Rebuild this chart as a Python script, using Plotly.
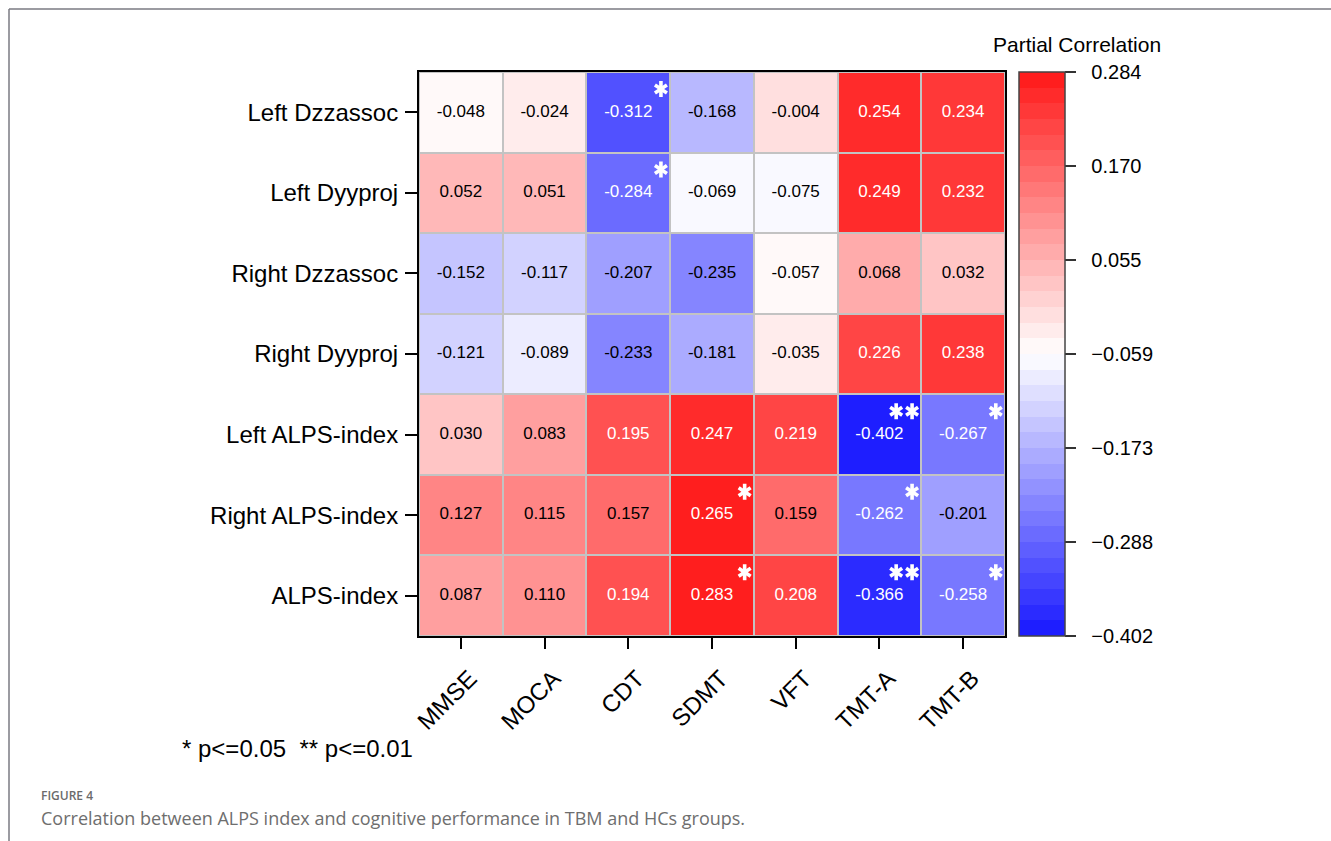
import plotly.graph_objects as go

# ---- data -------------------------------------------------------------
tests = ["MMSE", "MOCA", "CDT", "SDMT", "VFT", "TMT-A", "TMT-B"]
measures = ["Left Dzzassoc", "Left Dyyproj", "Right Dzzassoc", "Right Dyyproj",
            "Left ALPS-index", "Right ALPS-index", "ALPS-index"]

r_left_dzz = [-0.048, -0.024, -0.312, -0.168, -0.004, 0.254, 0.234]
r_left_dyy = [0.052, 0.051, -0.284, -0.069, -0.075, 0.249, 0.232]
r_right_dzz = [-0.152, -0.117, -0.207, -0.235, -0.057, 0.068, 0.032]
r_right_dyy = [-0.121, -0.089, -0.233, -0.181, -0.035, 0.226, 0.238]
r_left_alps = [0.030, 0.083, 0.195, 0.247, 0.219, -0.402, -0.267]
r_right_alps = [0.127, 0.115, 0.157, 0.265, 0.159, -0.262, -0.201]
r_alps = [0.087, 0.110, 0.194, 0.283, 0.208, -0.366, -0.258]

# number of significance stars per cell (1: p<=0.05, 2: p<=0.01)
sig_left_dzz = [0, 0, 1, 0, 0, 0, 0]
sig_left_dyy = [0, 0, 1, 0, 0, 0, 0]
sig_right_dzz = [0, 0, 0, 0, 0, 0, 0]
sig_right_dyy = [0, 0, 0, 0, 0, 0, 0]
sig_left_alps = [0, 0, 0, 0, 0, 2, 1]
sig_right_alps = [0, 0, 0, 1, 0, 1, 0]
sig_alps = [0, 0, 0, 1, 0, 2, 1]

cbar_ticks = [0.284, 0.170, 0.055, -0.059, -0.173, -0.288, -0.402]

values = [r_left_dzz, r_left_dyy, r_right_dzz, r_right_dyy,
          r_left_alps, r_right_alps, r_alps]
stars = [sig_left_dzz, sig_left_dyy, sig_right_dzz, sig_right_dyy,
         sig_left_alps, sig_right_alps, sig_alps]

ZMIN, ZMAX = min(cbar_ticks), max(cbar_ticks)

# ---- stepped blue-white-red colour scale (36 bins) ----------------------
RED = (255, 30, 30)
BLUE = (30, 30, 255)
NB = 36
HALF = NB // 2


def bin_rgb(b):
    if b >= HALF:
        k, end = b - HALF, RED
    else:
        k, end = HALF - 1 - b, BLUE
    t = (k + 0.5) / (HALF - 0.5)
    return tuple(round(255 + (c - 255) * t) for c in end)


colorscale = []
for b in range(NB):
    col = "rgb(%d,%d,%d)" % bin_rgb(b)
    colorscale.append([b / NB, col])
    colorscale.append([(b + 1) / NB, col])


def text_color(v):
    f = (v - ZMIN) / (ZMAX - ZMIN)
    b = min(NB - 1, max(0, int(f * NB)))
    r, g, bl = bin_rgb(b)
    lum = 0.299 * r + 0.587 * g + 0.114 * bl
    return "white" if lum < 146 else "black"


# ---- page geometry (pixels) --------------------------------------------
W, H = 1331, 841
PL, PR, PT, PB = 419, 1005, 72, 636


def px(x):
    return (x - PL) / (PR - PL)


def py(y):
    return (PB - y) / (PB - PT)


FONT = "Arial, Liberation Sans, sans-serif"
NBSP = "\u00a0"

nx, ny = len(tests), len(measures)
xs = list(range(nx))
ys = list(range(ny))

fig = go.Figure()

fig.add_trace(go.Heatmap(
    z=values, x=xs, y=ys,
    zmin=ZMIN, zmax=ZMAX,
    colorscale=colorscale,
    xgap=2, ygap=2,
    hoverinfo="skip",
    colorbar=dict(
        x=px(1019), xanchor="left", xpad=0,
        y=0.5, yanchor="middle", len=1, ypad=0,
        thickness=46,
        outlinewidth=1.5, outlinecolor="#444444",
        tickmode="array",
        tickvals=cbar_ticks,
        ticktext=[NBSP * 2 + ("%.3f" % v).replace("-", "\u2212") for v in cbar_ticks],
        ticks="outside", ticklen=11, tickwidth=1.5, tickcolor="#333333",
        tickfont=dict(family=FONT, size=20, color="black"),
    ),
))

# cell value labels
tx, ty, tt, tc = [], [], [], []
for i, row in enumerate(values):
    for j, v in enumerate(row):
        tx.append(j)
        ty.append(i)
        tt.append("%.3f" % v)
        tc.append(text_color(v))

fig.add_trace(go.Scatter(
    x=tx, y=ty, text=tt, mode="text",
    textfont=dict(family=FONT, size=17, color=tc),
    hoverinfo="skip", showlegend=False,
))

# significance stars: six-armed marks in the top-right corner of each cell
STAR_DX = 0.11    # star centre inset from the right cell edge (cell units)
STAR_STEP = 0.19  # spacing between two stars (cell units)
STAR_DY = 0.21    # star centre inset from the top cell edge (cell units)
sx, sy = [], []
for i, row in enumerate(stars):
    for j, n in enumerate(row):
        for k in range(n):
            sx.append(j + 0.5 - STAR_DX - k * STAR_STEP)
            sy.append(i - 0.5 + STAR_DY)

for sym in ("y-up-open", "y-down-open"):
    fig.add_trace(go.Scatter(
        x=sx, y=sy, mode="markers",
        marker=dict(symbol=sym, size=10, color="white",
                    line=dict(color="white", width=3.6)),
        hoverinfo="skip", showlegend=False,
    ))
fig.add_trace(go.Scatter(
    x=sx, y=sy, mode="markers",
    marker=dict(symbol="circle", size=6, color="white", line=dict(width=0)),
    hoverinfo="skip", showlegend=False,
))

annotations = [
    dict(x=px(1077), y=py(44), xref="paper", yref="paper",
         text="Partial Correlation", showarrow=False,
         xanchor="center", yanchor="middle",
         font=dict(family=FONT, size=21, color="black")),
    dict(x=px(180), y=py(748), xref="paper", yref="paper",
         text="* p<=0.05  ** p<=0.01", showarrow=False,
         xanchor="left", yanchor="middle",
         font=dict(family=FONT, size=24, color="black")),
    dict(x=px(39), y=py(795), xref="paper", yref="paper",
         text="FIGURE 4", showarrow=False,
         xanchor="left", yanchor="middle",
         font=dict(family="Open Sans, Noto Sans, sans-serif", size=12,
                   color="#6b6b6b", weight=600)),
    dict(x=px(39), y=py(818), xref="paper", yref="paper",
         text="Correlation between ALPS index and cognitive performance in TBM and HCs groups.",
         showarrow=False, xanchor="left", yanchor="middle",
         font=dict(family="Open Sans, Noto Sans, sans-serif", size=18,
                   color="#6e6e6e")),
]

shapes = [
    dict(type="line", xref="paper", yref="paper",
         x0=px(9), y0=py(9), x1=px(W + 5), y1=py(9),
         line=dict(color="#7a7a82", width=1.5)),
    dict(type="line", xref="paper", yref="paper",
         x0=px(9), y0=py(9), x1=px(9), y1=py(H + 5),
         line=dict(color="#7a7a82", width=1.5)),
]

fig.update_layout(
    width=W, height=H,
    margin=dict(l=PL, r=W - PR, t=PT, b=H - PB, pad=0),
    paper_bgcolor="white",
    plot_bgcolor="#c3c3c3",
    showlegend=False,
    annotations=annotations,
    shapes=shapes,
    xaxis=dict(
        range=[-0.5, nx - 0.5], tickmode="array", tickvals=xs, ticktext=tests,
        tickangle=-45, ticks="outside", ticklen=11, tickwidth=2, tickcolor="black",
        showline=True, linecolor="black", linewidth=2, mirror=True,
        showgrid=False, zeroline=False,
        ticklabelstandoff=6, ticklabelshift=9,
        tickfont=dict(family=FONT, size=24, color="black"),
    ),
    yaxis=dict(
        range=[ny - 0.5, -0.5], tickmode="array", tickvals=ys, ticktext=measures,
        ticks="outside", ticklen=12, tickwidth=2, tickcolor="black",
        showline=True, linecolor="black", linewidth=2, mirror=True,
        showgrid=False, zeroline=False, ticklabelstandoff=2,
        tickfont=dict(family=FONT, size=24, color="black"),
    ),
)

fig.write_html("out.html")
